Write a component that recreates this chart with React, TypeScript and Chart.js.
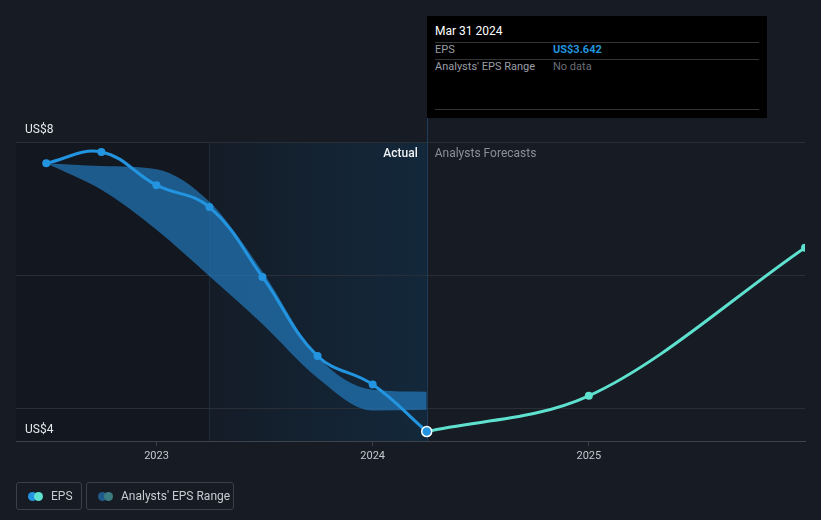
import React, { useEffect, useRef } from "react";
import { Chart, registerables } from "chart.js";

Chart.register(...registerables);

// ---- Data ----
const epsDates = [2022.49, 2022.745, 2023.0, 2023.245, 2023.49, 2023.745, 2024.0, 2024.25];
const epsValues = [7.68, 7.85, 7.35, 7.02, 5.97, 4.78, 4.35, 3.642];
const forecastDates = [2024.25, 2025.0, 2026.0];
const forecastValues = [3.642, 4.18, 6.41];
const rangeDates = [2022.49, 2022.745, 2023.0, 2023.245, 2023.49, 2023.745, 2024.0, 2024.25];
const rangeHigh = [7.68, 7.64, 7.59, 7.1, 6.05, 4.77, 4.27, 4.24];
const rangeLow = [7.68, 7.28, 6.68, 5.98, 5.26, 4.45, 3.96, 3.97];
const xTicks = [2023, 2024, 2025];
const yTicks = [4, 6, 8];
const yTickLabels = ["US$4", "US$6", "US$8"];
const actualStart = 2023.245;
const actualEnd = 2024.25;
const xMin = 2022.35;
const xMax = 2026.0;
const yMin = 3.5;
const yMax = 8;

const FONT = "Roboto, 'Noto Sans', sans-serif";

const bgPlugin = {
  id: "bgPlugin",
  beforeDatasetsDraw(chart: any) {
    const { ctx, chartArea, scales } = chart;
    const x = scales.x;
    const y = scales.y;
    const xa = x.getPixelForValue(actualStart);
    const xe = x.getPixelForValue(actualEnd);
    ctx.save();
    ctx.fillStyle = "#13171f";
    ctx.fillRect(chartArea.left, chartArea.top, xa - chartArea.left, chartArea.bottom - chartArea.top);
    const g = ctx.createLinearGradient(xa, 0, xe, 0);
    g.addColorStop(0, "#141c27");
    g.addColorStop(1, "#13283b");
    ctx.fillStyle = g;
    ctx.fillRect(xa, chartArea.top, xe - xa, chartArea.bottom - chartArea.top);
    ctx.strokeStyle = "#1c2b3a";
    ctx.lineWidth = 1;
    ctx.beginPath();
    ctx.moveTo(Math.round(xa) + 0.5, chartArea.top);
    ctx.lineTo(Math.round(xa) + 0.5, chartArea.bottom);
    ctx.stroke();
    ctx.strokeStyle = "#2a2e37";
    for (const v of yTicks) {
      const py = Math.round(y.getPixelForValue(v)) + 0.5;
      ctx.beginPath();
      ctx.moveTo(chartArea.left, py);
      ctx.lineTo(chartArea.right, py);
      ctx.stroke();
    }
    ctx.strokeStyle = "#1f3d58";
    ctx.beginPath();
    ctx.moveTo(Math.round(xe) + 0.5, 118);
    ctx.lineTo(Math.round(xe) + 0.5, chartArea.bottom);
    ctx.stroke();
    ctx.font = `500 12px ${FONT}`;
    ctx.textBaseline = "middle";
    ctx.textAlign = "right";
    ctx.fillStyle = "#f0f2f5";
    ctx.fillText("Actual", xe - 9, 154);
    ctx.textAlign = "left";
    ctx.font = `12px ${FONT}`;
    ctx.fillStyle = "#8a8f98";
    ctx.fillText("Analysts Forecasts", xe + 8, 154);
    ctx.font = `12px ${FONT}`;
    ctx.fillStyle = "#e6e8eb";
    ctx.fillText(yTickLabels[2], 25, y.getPixelForValue(8) - 12);
    ctx.fillText(yTickLabels[0], 25, y.getPixelForValue(4) + 22);
    ctx.restore();
  },
};

export default function App() {
  const ref = useRef<HTMLCanvasElement>(null);
  useEffect(() => {
    if (!ref.current) return;
    const chart = new Chart(ref.current, {
      type: "line",
      data: {
        datasets: [
          {
            label: "EPS",
            data: epsDates.map((d, i) => ({ x: d, y: epsValues[i] })),
            borderColor: "#2394df",
            backgroundColor: "#2394df",
            borderWidth: 3,
            tension: 0.4,
            pointRadius: epsDates.map((_, i) => (i === epsDates.length - 1 ? 5 : 4)),
            pointBorderWidth: epsDates.map((_, i) => (i === epsDates.length - 1 ? 1.5 : 0)),
            pointBorderColor: epsDates.map((_, i) => (i === epsDates.length - 1 ? "#ffffff" : "#2394df")),
            pointBackgroundColor: "#2394df",
            fill: false,
            order: 0,
          },
          {
            label: "Forecast",
            data: forecastDates.map((d, i) => ({ x: d, y: forecastValues[i] })),
            borderColor: "#5ee2cf",
            backgroundColor: "#5ee2cf",
            borderWidth: 3,
            cubicInterpolationMode: "monotone",
            pointRadius: [0, 4, 4],
            pointBorderWidth: 0,
            fill: false,
            order: 1,
          },
          {
            label: "RangeLow",
            data: rangeDates.map((d, i) => ({ x: d, y: rangeLow[i] })),
            borderWidth: 0,
            borderColor: "rgba(0,0,0,0)",
            pointRadius: 0,
            cubicInterpolationMode: "monotone",
            fill: false,
            order: 3,
          },
          {
            label: "RangeHigh",
            data: rangeDates.map((d, i) => ({ x: d, y: rangeHigh[i] })),
            borderWidth: 0,
            borderColor: "rgba(0,0,0,0)",
            backgroundColor: "rgba(36,130,202,0.64)",
            pointRadius: 0,
            cubicInterpolationMode: "monotone",
            fill: "-1",
            order: 2,
          },
        ],
      },
      options: {
        animation: false,
        responsive: false,
        maintainAspectRatio: false,
        layout: { padding: { left: 16, right: 16, top: 142, bottom: 0 } },
        plugins: { legend: { display: false }, tooltip: { enabled: false } },
        scales: {
          x: {
            type: "linear",
            min: xMin,
            max: xMax,
            afterBuildTicks: (s: any) => {
              s.ticks = xTicks.map((v) => ({ value: v }));
            },
            afterFit: (s: any) => {
              s.height = 79;
            },
            grid: { drawOnChartArea: false, tickLength: 5, color: "#3d424b" },
            border: { color: "#3d424b", width: 1 },
            ticks: {
              color: "#c4c8ce",
              font: { family: FONT, size: 11 },
              padding: 4,
              maxRotation: 0,
              callback: (v: any) => String(v),
            },
          },
          y: {
            type: "linear",
            min: yMin,
            max: yMax,
            display: true,
            afterFit: (s: any) => {
              s.width = 0;
            },
            grid: { display: false },
            border: { display: false },
            ticks: { display: false },
          },
        },
      },
      plugins: [bgPlugin],
    } as any);
    return () => chart.destroy();
  }, []);

  const row: React.CSSProperties = {
    position: "absolute",
    left: 8,
    right: 8,
    height: 0,
    borderTop: "1px solid #333436",
  };
  const legendBox: React.CSSProperties = {
    position: "absolute",
    top: 482,
    height: 28,
    border: "1px solid #3a3f48",
    borderRadius: 3,
    boxSizing: "border-box",
    fontFamily: FONT,
    fontSize: 12,
    color: "#c8ccd2",
  };
  const dot = (c: string, l: number): React.CSSProperties => ({
    position: "absolute",
    left: l,
    top: 9,
    width: 9,
    height: 9,
    borderRadius: "50%",
    background: c,
  });

  return (
    <div style={{ position: "fixed", left: 0, top: 0, width: 821, height: 520, background: "#161b24", overflow: "hidden" }}>
      <canvas ref={ref} width={821} height={520} style={{ position: "absolute", left: 0, top: 0, width: 821, height: 520 }} />
      <div
        style={{
          position: "absolute",
          left: 427,
          top: 16,
          width: 340,
          height: 102,
          background: "#000000",
          fontFamily: FONT,
          fontSize: 11,
        }}
      >
        <div style={{ position: "absolute", left: 8, top: 8, color: "#ffffff", fontSize: 12 }}>Mar 31 2024</div>
        <div style={{ ...row, top: 26 }} />
        <div style={{ position: "absolute", left: 8, top: 27, color: "#9a9ea6" }}>EPS</div>
        <div style={{ position: "absolute", left: 126, top: 27, color: "#2394df", fontWeight: 700 }}>US$3.642</div>
        <div style={{ ...row, top: 43 }} />
        <div style={{ position: "absolute", left: 8, top: 44, color: "#9a9ea6" }}>Analysts' EPS Range</div>
        <div style={{ position: "absolute", left: 126, top: 44, color: "#6a6e75" }}>No data</div>
        <div style={{ ...row, top: 93 }} />
      </div>
      <div style={{ ...legendBox, left: 16, width: 66 }}>
        <span style={dot("#2394df", 11)} />
        <span style={dot("#5ee2cf", 17)} />
        <span style={{ position: "absolute", left: 34, top: 6 }}>EPS</span>
      </div>
      <div style={{ ...legendBox, left: 86, width: 148 }}>
        <span style={dot("#1f5b8a", 11)} />
        <span style={dot("#3b7d82", 17)} />
        <span style={{ position: "absolute", left: 34, top: 6 }}>Analysts' EPS Range</span>
      </div>
    </div>
  );
}
